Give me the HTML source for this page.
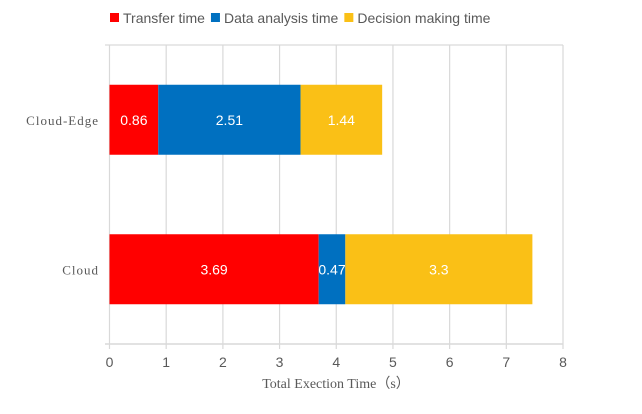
<!DOCTYPE html>
<html><head><meta charset="utf-8"><style>
body{margin:0;background:#fff;}
svg{display:block;font-family:"Liberation Sans",sans-serif;}
</style></head><body>
<svg id="c" width="642" height="414"></svg>
<script>
const categories=["Cloud-Edge","Cloud"];
const transfer=[0.86,3.69];
const analysis=[2.51,0.47];
const decision=[1.44,3.3];
const ticks=[0,1,2,3,4,5,6,7,8];
const seriesNames=["Transfer time","Data analysis time","Decision making time"];
const colors=["#ff0000","#0070c0","#fac016"];
const NS="http://www.w3.org/2000/svg";
const svg=document.getElementById('c');
function mk(t,a,txt){const e=document.createElementNS(NS,t);for(const k in a)e.setAttribute(k,a[k]);if(txt!==undefined)e.textContent=txt;svg.appendChild(e);return e;}
const X0=109.5,X1=563,Y0=45,Y1=344;
const xs=v=>X0+(v-ticks[0])/(ticks[ticks.length-1]-ticks[0])*(X1-X0);
const band=(Y1-Y0)/categories.length;
const yc=i=>Y0+band*(i+0.5);
const barH=70;
// grid
mk('line',{x1:105,x2:X1,y1:Y0,y2:Y0,stroke:'#d9d9d9','stroke-width':1.2});
ticks.forEach(t=>{
 const l=mk('line',{x1:xs(t),x2:xs(t),y1:Y0,y2:Y1+5,stroke:'#d9d9d9','stroke-width':1.2});
 
 
 const tx=mk('text',{x:xs(t),y:367,'text-anchor':'middle','font-size':14,fill:'#595959'},t);
 
 
});
const ax=mk('line',{x1:105,x2:X1,y1:Y1,y2:Y1,stroke:'#d9d9d9','stroke-width':1.5});


const series=[transfer,analysis,decision];
categories.forEach((c,i)=>{
 let acc=0;
 const cy=yc(i);
 series.forEach((s,j)=>{
  const v=s[i];
  const r=mk('rect',{x:xs(acc),y:cy-barH/2,width:xs(acc+v)-xs(acc),height:barH,fill:colors[j]});
  
  
  const t=mk('text',{x:(xs(acc)+xs(acc+v))/2,y:cy+5,'text-anchor':'middle','font-size':14,fill:'#fff'},v);
  
  
  acc+=v;
 });
 const cl=mk('text',{x:99,y:cy+5,'text-anchor':'end','font-size':13,fill:'#595959','font-family':'Liberation Serif, serif','letter-spacing':'1'},c);
 
 
});
const tt=mk('text',{x:336,y:388,'text-anchor':'middle','font-size':14,fill:'#595959','font-family':'Liberation Serif, serif'},'Total Exection Time（s）');


// legend
let lx=110;
seriesNames.forEach((n,j)=>{
 const r=mk('rect',{x:lx,y:13,width:9,height:9,fill:colors[j]});
 
 
 const t=mk('text',{x:lx+13,y:23,'font-size':14,fill:'#595959'},n);
 
 
 lx+=13+t.getComputedTextLength()+6;
});
</script>
</body></html>
